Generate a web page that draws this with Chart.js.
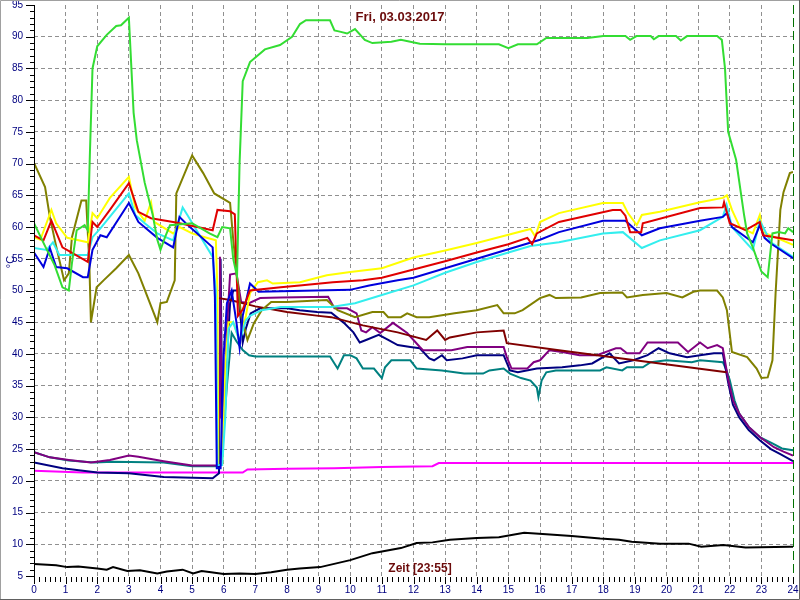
<!DOCTYPE html>
<html lang="de">
<head>
<meta charset="UTF-8">
<title>Temperaturen 03.03.2017</title>
<style>
  html, body { margin: 0; padding: 0; background: #fff; }
  canvas { display: block; }
</style>
</head>
<body>
<canvas id="chart" width="800" height="600"></canvas>

<script src="https://cdn.jsdelivr.net/npm/chart.js"></script>
<script>
// values: [hour, °C]
const green = [[0,60.6],[0.35,57],[0.65,54],[0.9,50.5],[1.1,50],[1.2,54.3],[1.35,59.5],[1.6,60.3],[1.7,59.5],[1.77,72],[1.85,85],[2.0,88.5],[2.3,90.3],[2.6,91.7],[2.75,91.8],[3.0,93],[3.05,88],[3.15,78],[3.25,73.7],[3.5,67],[3.75,62],[3.9,58],[4.0,56.4],[4.15,58.5],[4.3,60.3],[5.0,60.6],[5.55,59],[5.8,58.4],[5.95,60],[6.2,59.8],[6.3,55],[6.42,52.2],[6.5,70],[6.6,83],[6.83,86],[7.3,88],[7.78,88.7],[8.16,90],[8.41,92],[8.6,92.6],[9.36,92.6],[9.5,91],[9.67,90.8],[9.9,90.5],[10.15,91.2],[10.46,89.5],[10.7,89],[11.3,89.2],[11.6,89.5],[12.2,88.9],[13,88.8],[14.7,88.8],[15.0,88.2],[15.3,88.8],[15.9,88.8],[16.2,89.8],[17.5,89.8],[18,90.1],[18.7,90.1],[18.85,89.5],[19.05,90.1],[19.5,90.1],[19.6,89.6],[19.75,90.1],[20.3,90.1],[20.45,89.4],[20.65,90.1],[21.6,90.1],[21.75,89.5],[21.85,85],[21.95,75],[22.2,70.6],[22.45,62],[22.55,59],[22.73,56.8],[23.0,53],[23.2,52.1],[23.35,59],[23.55,59.2],[23.75,59],[23.85,59.8],[24,59.2]];
const yellow = [[0,58.4],[0.2,58],[0.55,62.7],[0.7,60.6],[1.05,58.3],[1.7,57.6],[1.85,62.2],[2.0,61.4],[2.4,64.6],[3.0,67.9],[3.2,63.1],[3.5,61],[3.7,63.9],[3.8,60.8],[4.4,59],[4.6,60],[5.0,59],[5.4,58.4],[5.75,57.9],[5.8,50],[5.83,22.5],[5.95,22.5],[6.05,38],[6.15,45],[6.3,45],[6.5,42],[6.7,46],[6.83,49.6],[7.08,51.3],[7.37,51.6],[7.55,51.1],[8.41,51.3],[9.26,52.4],[10,52.9],[11,53.5],[12,55.2],[13,56.3],[14,57.5],[15,58.8],[15.7,59.7],[15.85,58.5],[16,60.8],[16.6,62.2],[17.99,63.8],[18.62,63.8],[18.78,62.2],[19.06,60.3],[19.22,61.9],[19.79,62.4],[21.06,63.9],[21.78,64.6],[21.91,65],[22.07,62.7],[22.32,60],[22.73,59],[22.95,61.9],[23.05,59.2],[24,57.2]];
const red = [[0,58.7],[0.3,57.9],[0.55,61],[0.9,56.8],[1.7,54.5],[1.85,60.8],[2.0,60],[2.4,62.7],[3.0,66.9],[3.3,62.4],[3.7,61.4],[4.4,60.8],[4.6,60.6],[5.65,59.5],[5.8,62.7],[6.2,62.5],[6.35,62],[6.45,46],[6.6,47],[6.83,50],[7.8,50.5],[8.4,50.8],[9.45,51.3],[10.4,51.6],[11,52],[12,53.3],[13,54.6],[14,56],[15,57.3],[15.6,58.3],[15.75,57.3],[15.9,59],[16.6,60.8],[18.3,62.7],[18.55,62.7],[18.7,61.8],[18.85,59.2],[19.2,59.2],[19.25,60.6],[21.06,63],[21.78,63.1],[21.82,63.9],[22.0,60.6],[22.5,59.5],[22.95,60.8],[23.05,58.7],[24,57.9]];
const blue = [[0,56],[0.3,53.7],[0.5,56.7],[0.7,53.7],[1.05,53.5],[1.55,52.1],[1.7,52.1],[1.85,56.4],[2.1,58.7],[2.3,58.4],[3.0,63.8],[3.3,60.8],[3.9,58.3],[4.4,56.8],[4.6,61.6],[4.8,60.6],[5.65,56.8],[5.72,49],[5.78,22],[5.9,22],[6.0,40],[6.1,48],[6.25,50],[6.4,45],[6.5,41],[6.6,46],[6.83,51.1],[7.1,49.8],[9.99,50.1],[10.6,50.8],[11.5,51.6],[12,52],[13,53.5],[14,55],[15,56.5],[16,58],[16.6,59.2],[17.99,61],[18.7,61],[19.22,58.7],[19.79,59.8],[21.06,61],[21.78,61.6],[21.91,62.2],[22.07,60],[22.73,57.6],[22.95,60.3],[23.1,58.3],[23.3,57.4],[24,55.1]];
const cyan = [[0,56.7],[0.4,56.4],[0.6,57.6],[0.8,55.6],[1.7,55.6],[1.85,58.4],[2.1,59.8],[3.0,65.3],[3.2,61.9],[3.5,60.6],[3.9,59],[4.4,57.9],[4.7,63.1],[4.85,61.9],[5.65,55.3],[5.75,50],[5.8,22.5],[5.95,22.5],[6.05,30],[6.15,44],[6.3,45],[6.5,42],[6.7,45.3],[6.83,46],[7.2,46.9],[7.8,47.4],[9.4,47.4],[10.15,48],[11,49.3],[12,50.8],[12.4,51.6],[13,52.8],[14,54.5],[15,56],[15.7,57],[16.6,57.6],[17.99,59],[18.62,59.2],[19.22,56.7],[19.79,57.9],[21.06,59.5],[21.78,61.6],[21.9,63.5],[22.07,60],[22.73,56.4],[22.95,61],[23.3,57.6],[24,55.3]];
const olive = [[0,70.1],[0.35,66.3],[0.5,61.6],[0.7,57],[0.95,51.6],[1.1,52.7],[1.2,58.4],[1.5,64.2],[1.65,64.2],[1.75,54.3],[1.8,45],[1.98,50.5],[2.2,51.6],[2.6,53.5],[3.0,55.6],[3.3,52.7],[3.9,45],[4.0,48],[4.2,48.2],[4.45,51.6],[4.5,65.3],[5.0,71.3],[5.35,68.5],[5.7,65.3],[6.2,63.8],[6.3,58],[6.55,46],[6.75,42.2],[6.95,44.8],[7.2,46.9],[7.5,48.2],[8.0,48.2],[9.26,48.5],[9.6,46.9],[10.15,45.8],[10.7,46.6],[11.05,46.6],[11.2,45.8],[11.6,45.8],[11.8,46.4],[12.1,45.8],[12.5,45.8],[13.3,46.4],[14,46.9],[14.65,47.7],[14.85,46.4],[15.2,46.4],[15.45,46.9],[16,48.8],[16.3,49.3],[16.5,48.8],[17.3,48.9],[17.9,49.6],[18.6,49.7],[18.75,48.9],[19.25,49.3],[20,49.6],[20.5,48.9],[20.85,49.8],[21.06,50],[21.6,50],[21.78,48.9],[21.91,46.9],[22.07,40.3],[22.55,39.5],[22.85,37.7],[23.0,36.2],[23.2,36.3],[23.35,39],[23.45,49.6],[23.6,62.7],[23.7,65.5],[23.9,68.5],[24,68.7]];
const maroon = [[5.85,48.8],[6.2,48.5],[7,47.5],[8,46.6],[9,46],[9.4,45.8],[10.4,44.5],[11.5,43.4],[12.4,42.2],[12.75,43.7],[13,42.2],[13.15,42.6],[14,43.4],[14.85,43.7],[14.95,41.7],[16.6,40.6],[21.9,37.1]];
const purple = [[0,24.5],[0.5,23.7],[1.1,23.3],[1.8,22.9],[2.4,23.3],[3.0,24],[3.3,23.8],[4.1,23.1],[5.0,22.4],[5.8,22.4],[5.85,30],[5.88,55.3],[5.92,40],[6.0,30],[6.1,44],[6.2,52.5],[6.4,52.7],[6.55,48.2],[6.8,48],[7.15,48.8],[7.8,48.9],[9.3,49],[9.5,47.2],[9.9,47.2],[10.2,46.4],[10.35,43.7],[10.5,43.4],[10.7,44.2],[10.95,43.3],[11.35,44.9],[11.8,43.3],[12.2,41.1],[12.3,40.6],[13.2,40.6],[13.7,41.1],[14.85,41.1],[14.95,39.5],[15.1,37.7],[15.6,37.7],[15.8,38.7],[16,39],[16.3,40.6],[16.7,40.3],[17.25,39.8],[17.8,39.8],[18.4,40.9],[18.55,40.9],[18.75,40.1],[19.15,40.1],[19.4,41.8],[20.36,41.8],[20.68,40.3],[21.06,41.8],[21.3,40.9],[21.6,41.4],[21.78,40.9],[21.95,36],[22.1,32.7],[22.3,30.6],[22.6,28.5],[22.95,26.9],[23.4,25.3],[23.7,24.6],[24,24]];
const navy = [[0,22.9],[0.9,22],[2.0,21.3],[3.0,21.2],[4.1,20.6],[5.65,20.4],[5.85,21.2],[5.9,55],[5.95,30],[6.05,35],[6.2,48],[6.3,50],[6.45,50],[6.55,44.8],[6.6,41.8],[6.7,44],[6.85,46.4],[7.15,47.2],[8.0,47.2],[8.4,46.9],[8.95,46.6],[9.4,46.5],[9.8,44.9],[10.1,43.4],[10.3,41.8],[10.5,42.2],[10.9,43],[11.2,42.2],[11.5,41.4],[11.9,41.1],[12.2,40.9],[12.5,39.3],[12.65,39],[12.9,39.8],[13.05,39],[13.55,39.3],[14,39.8],[14.85,39.8],[15.05,37.4],[15.3,37.1],[15.9,37.7],[16.7,37.9],[17.26,38.2],[17.65,38.5],[18.2,40.1],[18.5,38.5],[18.95,39],[19.4,39.8],[19.75,40.9],[20.1,40.1],[20.65,39.5],[21.06,39.8],[21.5,40.1],[21.78,40.1],[21.95,35.5],[22.1,32],[22.3,30],[22.6,28],[22.95,26.4],[23.3,25],[23.6,24.2],[24,23.1]];
const teal = [[0,24.5],[0.5,23.7],[1.1,23.2],[1.9,22.9],[2.5,23],[4.1,22.9],[5.0,22.3],[5.8,22.3],[5.95,25],[6.1,35],[6.25,43.3],[6.4,42],[6.6,40.6],[6.8,39.8],[7.0,39.6],[9.36,39.6],[9.6,37.7],[9.8,39.8],[10,39.8],[10.2,39.3],[10.4,37.7],[10.75,37.7],[11.0,36.2],[11.1,37.9],[11.3,39],[11.9,39],[12.1,37.7],[12.9,37.4],[13.6,36.9],[14.2,36.9],[14.4,37.4],[14.85,37.7],[15.05,36.9],[15.4,36.2],[15.7,35.8],[15.9,34.7],[15.95,33.2],[16.05,35.8],[16.2,37.1],[16.5,37.4],[17.9,37.4],[18.1,37.9],[18.6,37.4],[18.75,37.9],[19.25,37.9],[19.5,38.7],[20.0,39],[20.8,38.7],[21.06,39],[21.78,38.7],[21.9,37.4],[22.0,35.9],[22.15,32.7],[22.3,30.6],[22.6,28.5],[22.95,26.9],[23.35,25.9],[23.65,25.1],[24,24.8]];
const magenta = [[0,21.6],[1.55,21.3],[6.6,21.3],[6.75,21.8],[8,21.9],[9.5,22],[11,22.2],[12.6,22.3],[12.8,22.8],[24,22.8]];
const black = [[0,6.9],[0.7,6.7],[1.05,6.4],[1.4,6.5],[2.0,6.2],[2.3,6.0],[2.5,6.4],[2.95,5.8],[3.35,5.9],[3.9,5.4],[4.2,5.7],[4.7,6.0],[5.03,5.4],[5.3,5.8],[5.6,5.6],[6.0,5.3],[6.5,5.4],[7,5.3],[7.5,5.6],[8,6.0],[8.4,6.2],[9.05,6.4],[10,7.5],[10.7,8.6],[11.6,9.4],[12.1,10.2],[12.6,10.3],[13.15,10.7],[14,11],[14.7,11.1],[15.5,11.8],[16.2,11.6],[17,11.3],[17.9,10.9],[18.5,10.7],[18.9,10.4],[19.8,10.1],[20.7,10.1],[21.1,9.6],[21.8,9.9],[22.5,9.5],[23.9,9.6],[24,9.6]];

// later entries are drawn underneath earlier ones
const seriesList = [
  [green, '#33dd33'], [red, '#e00000'], [blue, '#0000dd'], [cyan, '#33eeee'],
  [yellow, '#ffff00'], [olive, '#808000'], [maroon, '#800000'], [purple, '#800080'],
  [navy, '#000080'], [teal, '#008080'], [magenta, '#ff00ff'], [black, '#000000']
];

const yMin = 5, yMax = 95, xMax = 24;
const axisBlue = '#000080';
const darkRed = '#6b0b0b';

// axis line, minor/major tick marks, texts and frame
const decor = {
  id: 'decor',
  afterDraw(chart) {
    const { ctx, chartArea: a, scales: { x, y } } = chart;
    ctx.save();
    ctx.strokeStyle = '#000';
    ctx.lineWidth = 1;
    ctx.beginPath();
    ctx.moveTo(a.left + 0.5, a.top);
    ctx.lineTo(a.left + 0.5, a.bottom + 8);
    for (let v = yMin; v <= yMax; v++) {
      const py = Math.round(y.getPixelForValue(v)) + 0.5;
      ctx.moveTo(a.left - (v % 5 ? 4 : 8), py);
      ctx.lineTo(a.left, py);
    }
    for (let m = 0; m <= xMax * 6; m++) {
      const px = Math.round(x.getPixelForValue(m / 6)) + 0.5;
      ctx.moveTo(px, a.bottom + 1);
      ctx.lineTo(px, a.bottom + (m % 6 ? 6 : 8));
    }
    ctx.stroke();

    // "now" marker
    ctx.strokeStyle = '#007000';
    ctx.setLineDash([9, 4]);
    ctx.beginPath();
    const nx = Math.round(x.getPixelForValue(xMax)) + 0.5;
    ctx.moveTo(nx, a.top);
    ctx.lineTo(nx, a.bottom);
    ctx.stroke();
    ctx.setLineDash([]);

    ctx.fillStyle = darkRed;
    ctx.textAlign = 'center';
    ctx.textBaseline = 'middle';
    ctx.font = 'bold 13px "Liberation Sans", Arial';
    ctx.fillText('Fri, 03.03.2017', 400, 17);
    ctx.font = 'bold 12px "Liberation Sans", Arial';
    ctx.fillText('Zeit [23:55]', 420, 569);

    ctx.save();
    ctx.translate(11, 262);
    ctx.rotate(-Math.PI / 2);
    ctx.fillStyle = axisBlue;
    ctx.font = '11px "Liberation Sans", Arial';
    ctx.fillText('°C', 0, 0);
    ctx.restore();

    // window frame
    ctx.strokeStyle = '#a0a0a0';
    ctx.beginPath();
    ctx.moveTo(0.5, 599); ctx.lineTo(0.5, 0.5); ctx.lineTo(799, 0.5);
    ctx.stroke();
    ctx.strokeStyle = '#606060';
    ctx.beginPath();
    ctx.moveTo(799.5, 0); ctx.lineTo(799.5, 599.5); ctx.lineTo(0, 599.5);
    ctx.stroke();
    ctx.restore();
  }
};

const edgeless = (ctx, last) => (ctx.index === 0 || ctx.index === last) ? 'rgba(0,0,0,0)' : '#909090';

new Chart(document.getElementById('chart'), {
  type: 'line',
  data: {
    datasets: seriesList.map(([pts, col]) => ({
      data: pts.map(([h, v]) => ({ x: h, y: v })),
      borderColor: col,
      borderWidth: 2,
      pointRadius: 0,
      tension: 0,
      fill: false
    }))
  },
  options: {
    responsive: false,
    animation: false,
    devicePixelRatio: 1,
    layout: { padding: { top: 5, right: 7, left: 0, bottom: 0 } },
    plugins: { legend: { display: false }, tooltip: { enabled: false }, title: { display: false } },
    scales: {
      x: {
        type: 'linear', min: 0, max: xMax,
        afterFit: s => { s.height = 24; s.paddingLeft = 0; s.paddingRight = 0; },
        ticks: { stepSize: 1, padding: 8, color: axisBlue, font: { size: 10, family: '"Liberation Sans", Arial' }, maxRotation: 0, autoSkip: false },
        grid: { drawTicks: false, color: c => edgeless(c, xMax) },
        border: { display: false, dash: [4, 3] }
      },
      y: {
        type: 'linear', min: yMin, max: yMax,
        afterFit: s => { s.width = 34; s.paddingTop = 0; s.paddingBottom = 0; },
        ticks: { stepSize: 5, padding: 11, color: axisBlue, font: { size: 10, family: '"Liberation Sans", Arial' } },
        grid: { drawTicks: false, color: c => edgeless(c, (yMax - yMin) / 5) },
        border: { display: false, dash: [4, 3] }
      }
    }
  },
  plugins: [decor]
});
</script>
</body>
</html>
